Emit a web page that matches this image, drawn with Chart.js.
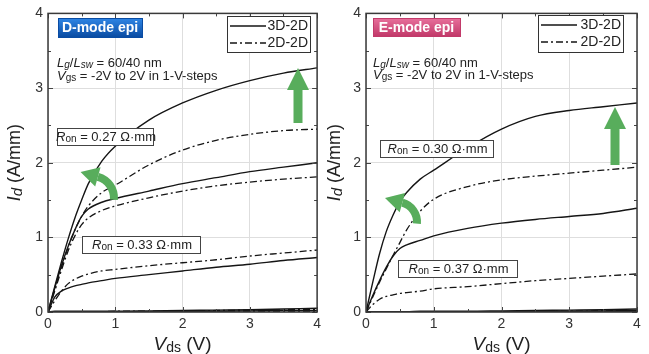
<!DOCTYPE html>
<html>
<head>
<meta charset="utf-8">
<script src="https://cdn.jsdelivr.net/npm/chart.js@4.4.1/dist/chart.umd.min.js"></script>
<style>
  body { margin: 0; background: #fff; }
  canvas { position: absolute; top: 0; }
</style>
</head>
<body>
<canvas id="dChart" width="325" height="354" style="left:0"></canvas>
<canvas id="eChart" width="324" height="354" style="left:325px"></canvas>
<script>
// drain voltage sweep (V)
const vds = [0, 0.1, 0.2, 0.3, 0.4, 0.5, 0.6, 0.8, 1, 1.5, 2, 2.5, 3, 3.5, 4];
const yTicks = [0, 1, 2, 3, 4];
const xTicks = [0, 1, 2, 3, 4];

// D-mode epi, Id (A/mm) for Vgs = 2, 1, 0, -1, -2
const d3dVgs2 = [0, 0.34, 0.67, 0.98, 1.26, 1.5, 1.72, 2.02, 2.22, 2.57, 2.8, 2.97, 3.1, 3.2, 3.27];
const d3dVgs1 = [0, 0.32, 0.62, 0.88, 1.1, 1.28, 1.38, 1.47, 1.52, 1.62, 1.72, 1.8, 1.88, 1.94, 2.0];
const d3dVgs0 = [0, 0.2, 0.28, 0.32, 0.35, 0.37, 0.39, 0.42, 0.45, 0.5, 0.55, 0.6, 0.64, 0.69, 0.73];
const d3dVgsm1 = [0, 0.01, 0.01, 0.01, 0.01, 0.01, 0.01, 0.01, 0.01, 0.015, 0.02, 0.025, 0.03, 0.04, 0.05];
const d3dVgsm2 = [0, 0, 0, 0, 0, 0, 0, 0, 0, 0.005, 0.01, 0.01, 0.015, 0.02, 0.02];
const d2dVgs2 = [0, 0.3, 0.6, 0.87, 1.1, 1.28, 1.42, 1.6, 1.7, 1.97, 2.17, 2.3, 2.38, 2.43, 2.45];
const d2dVgs1 = [0, 0.28, 0.56, 0.82, 1.02, 1.17, 1.26, 1.36, 1.42, 1.53, 1.62, 1.69, 1.74, 1.78, 1.81];
const d2dVgs0 = [0, 0.15, 0.28, 0.38, 0.44, 0.48, 0.51, 0.55, 0.57, 0.62, 0.66, 0.7, 0.75, 0.79, 0.83];
const d2dVgsm1 = [0, 0.005, 0.005, 0.005, 0.005, 0.005, 0.005, 0.005, 0.01, 0.01, 0.015, 0.02, 0.025, 0.03, 0.035];
const d2dVgsm2 = [0, 0, 0, 0, 0, 0, 0, 0, 0, 0, 0.005, 0.005, 0.01, 0.01, 0.01];

// E-mode epi
const e3dVgs2 = [0, 0.4, 0.78, 1.08, 1.3, 1.48, 1.6, 1.78, 1.9, 2.2, 2.45, 2.62, 2.7, 2.75, 2.8];
const e3dVgs1 = [0, 0.22, 0.42, 0.6, 0.75, 0.85, 0.9, 0.96, 1.02, 1.12, 1.19, 1.24, 1.28, 1.32, 1.39];
const e3dVgs0 = [0, 0.005, 0.005, 0.005, 0.005, 0.005, 0.005, 0.01, 0.01, 0.01, 0.015, 0.02, 0.025, 0.03, 0.04];
const e3dVgsm1 = [0, 0, 0, 0, 0, 0, 0, 0, 0, 0.005, 0.005, 0.01, 0.01, 0.015, 0.02];
const e3dVgsm2 = [0, 0, 0, 0, 0, 0, 0, 0, 0, 0, 0, 0, 0.005, 0.005, 0.01];
const e2dVgs2 = [0, 0.2, 0.4, 0.58, 0.76, 0.93, 1.1, 1.35, 1.51, 1.68, 1.77, 1.82, 1.86, 1.9, 1.94];
const e2dVgs1 = [0, 0.1, 0.17, 0.21, 0.23, 0.25, 0.26, 0.28, 0.31, 0.34, 0.38, 0.42, 0.45, 0.48, 0.51];
const e2dVgs0 = [0, 0, 0, 0, 0, 0, 0, 0, 0, 0.005, 0.005, 0.01, 0.01, 0.015, 0.02];
const e2dVgsm1 = [0, 0, 0, 0, 0, 0, 0, 0, 0, 0, 0, 0, 0.005, 0.005, 0.01];
const e2dVgsm2 = [0, 0, 0, 0, 0, 0, 0, 0, 0, 0, 0, 0, 0, 0, 0.005];

const FONT = '"Liberation Sans", Arial, sans-serif';
const GREEN = "#58ad5c";
const DASHDOT = [7, 3, 2, 3];

function toPoints(arr) {
  return arr.map((v, i) => ({ x: vds[i], y: v }));
}

function makeSets(solids, dashes) {
  let sets = [];
  solids.forEach((s) => {
    sets.push({ data: toPoints(s), borderColor: "#151515", borderWidth: 1.4,
      pointRadius: 0, cubicInterpolationMode: "monotone", fill: false });
  });
  dashes.forEach((s) => {
    sets.push({ data: toPoints(s), borderColor: "#151515", borderWidth: 1.3, borderDash: DASHDOT,
      pointRadius: 0, cubicInterpolationMode: "monotone", fill: false });
  });
  return sets;
}

function fontOf(p) {
  return (p[2] ? "italic " : "") + p[1] + "px " + FONT;
}

// parts: [text, size, italic, subscript]
function drawRich(ctx, x, y, parts, align) {
  let w = 0;
  parts.forEach((p) => { ctx.font = fontOf(p); w += ctx.measureText(p[0]).width; });
  let cx = align === "center" ? x - w / 2 : x;
  ctx.textAlign = "left";
  ctx.textBaseline = "middle";
  parts.forEach((p) => {
    ctx.font = fontOf(p);
    ctx.fillText(p[0], cx, y + (p[3] ? p[1] * 0.2 : 0));
    cx += ctx.measureText(p[0]).width;
  });
}

function upArrow(ctx, x, tip, base) {
  ctx.fillStyle = GREEN;
  ctx.beginPath();
  ctx.moveTo(x, tip);
  ctx.lineTo(x + 11, tip + 22);
  ctx.lineTo(x + 4.5, tip + 22);
  ctx.lineTo(x + 4.5, base);
  ctx.lineTo(x - 4.5, base);
  ctx.lineTo(x - 4.5, tip + 22);
  ctx.lineTo(x - 11, tip + 22);
  ctx.closePath();
  ctx.fill();
}

function curlArrow(ctx, cx, cy, r) {
  let a = -1.3;
  ctx.strokeStyle = GREEN;
  ctx.lineWidth = 8;
  ctx.beginPath();
  ctx.arc(cx, cy, r, 0.08, a, true);
  ctx.stroke();
  let ex = cx + r * Math.cos(a), ey = cy + r * Math.sin(a);
  let dx = Math.sin(a), dy = -Math.cos(a);
  let px = -dy, py = dx;
  ctx.fillStyle = GREEN;
  ctx.beginPath();
  ctx.moveTo(ex + dx * 18, ey + dy * 18);
  ctx.lineTo(ex + px * 10, ey + py * 10);
  ctx.lineTo(ex - px * 10, ey - py * 10);
  ctx.closePath();
  ctx.fill();
}

function decoPlugin(panel) {
  return {
    id: "deco",
    afterDraw(chart) {
      const ctx = chart.ctx;
      const area = chart.chartArea;
      const xs = chart.scales.x, ys = chart.scales.y;
      ctx.save();

      // inner tick marks on all four sides
      ctx.strokeStyle = "#444";
      ctx.lineWidth = 1;
      for (let v = 0; v <= 4; v += 0.5) {
        let len = v % 1 === 0 ? 5 : 3;
        let px = Math.round(xs.getPixelForValue(v)) + 0.5;
        let py = Math.round(ys.getPixelForValue(v)) + 0.5;
        ctx.beginPath();
        ctx.moveTo(px, area.bottom); ctx.lineTo(px, area.bottom - len);
        ctx.moveTo(px, area.top); ctx.lineTo(px, area.top + len);
        ctx.moveTo(area.left, py); ctx.lineTo(area.left + len, py);
        ctx.moveTo(area.right, py); ctx.lineTo(area.right - len, py);
        ctx.stroke();
      }
      // frame
      ctx.lineWidth = 1.5;
      ctx.strokeStyle = "#3a3a3a";
      ctx.strokeRect(area.left, area.top, area.right - area.left, area.bottom - area.top);

      // axis titles
      ctx.fillStyle = "#222";
      drawRich(ctx, (area.left + area.right) / 2, 345,
        [["V", 19, true, false], ["ds", 14, false, true], [" (V)", 19, false, false]], "center");
      ctx.save();
      ctx.translate(panel.titleX, (area.top + area.bottom) / 2);
      ctx.rotate(-Math.PI / 2);
      drawRich(ctx, 0, 0, [["I", 18, true, false], ["d", 15, true, true], [" (A/mm)", 18, false, false]], "center");
      ctx.restore();

      // mode tag
      let t = panel.tag;
      let g = ctx.createLinearGradient(0, t.y, 0, t.y + t.h);
      g.addColorStop(0, t.c1);
      g.addColorStop(1, t.c2);
      ctx.fillStyle = g;
      ctx.fillRect(t.x, t.y, t.w, t.h);
      ctx.strokeStyle = t.c2;
      ctx.lineWidth = 1;
      ctx.strokeRect(t.x + 0.5, t.y + 0.5, t.w, t.h);
      ctx.fillStyle = "#fff";
      ctx.font = "bold 14px " + FONT;
      ctx.textAlign = "center";
      ctx.textBaseline = "middle";
      ctx.fillText(t.text, t.x + t.w / 2, t.y + t.h / 2 + 1);

      // legend box
      let L = panel.legend;
      ctx.fillStyle = "#fff";
      ctx.fillRect(L.x, L.y, L.w, L.h);
      ctx.strokeStyle = "#333";
      ctx.lineWidth = 1;
      ctx.strokeRect(L.x + 0.5, L.y + 0.5, L.w, L.h);
      ctx.strokeStyle = "#151515";
      ctx.lineWidth = 1.4;
      ctx.beginPath();
      ctx.moveTo(L.x + 3, L.y + 10); ctx.lineTo(L.x + 39, L.y + 10);
      ctx.stroke();
      ctx.setLineDash(DASHDOT);
      ctx.beginPath();
      ctx.moveTo(L.x + 3, L.y + 27); ctx.lineTo(L.x + 39, L.y + 27);
      ctx.stroke();
      ctx.setLineDash([]);
      ctx.fillStyle = "#222";
      ctx.font = "14px " + FONT;
      ctx.textAlign = "right";
      ctx.fillText("3D-2D", L.x + L.w - 2, L.y + 10);
      ctx.fillText("2D-2D", L.x + L.w - 2, L.y + 27);

      // condition text
      ctx.fillStyle = "#222";
      drawRich(ctx, panel.textX, panel.textY[0], [["L", 13, true, false], ["g", 10, true, true], ["/", 13, false, false],
        ["L", 13, true, false], ["sw", 10, true, true], [" = 60/40 nm", 13, false, false]], "left");
      drawRich(ctx, panel.textX, panel.textY[1], [["V", 13, true, false], ["gs", 10, false, true],
        [" = -2V to 2V in 1-V-steps", 13, false, false]], "left");

      // Ron boxes
      panel.ron.forEach((r) => {
        ctx.fillStyle = "#fff";
        ctx.fillRect(r.x, r.y, r.w, 17);
        ctx.strokeStyle = "#444";
        ctx.lineWidth = 1;
        ctx.strokeRect(r.x + 0.5, r.y + 0.5, r.w, 17);
        ctx.fillStyle = "#222";
        drawRich(ctx, r.x + r.w / 2 + 1, r.y + 9, [["R", 13, true, false], ["on", 10, false, true],
          [" = " + r.value + " \u03A9\u00B7mm", 13, false, false]], "center");
      });

      // green arrows
      upArrow(ctx, panel.up[0], panel.up[1], panel.up[2]);
      curlArrow(ctx, panel.curl[0], panel.curl[1], panel.curl[2]);
      ctx.restore();
    },
  };
}

function makeOptions(yWidth, padRight) {
  return {
    responsive: false,
    animation: false,
    layout: { padding: { top: 10, right: padRight, left: 0, bottom: 0 } },
    plugins: { legend: { display: false }, tooltip: { enabled: false } },
    scales: {
      x: {
        type: "linear", min: 0, max: 4,
        afterFit: (s) => { s.height = 42; },
        ticks: {
          stepSize: 0.5, padding: 4, color: "#333", font: { family: FONT, size: 14 },
          callback: (v) => (xTicks.includes(v) ? String(v) : ""),
        },
        grid: {
          drawTicks: false,
          color: (c) => (c.tick && c.tick.value % 1 === 0 ? "#dedede" : "rgba(0,0,0,0)"),
        },
        border: { display: false },
      },
      y: {
        type: "linear", min: 0, max: 4,
        afterFit: (s) => { s.width = yWidth; },
        ticks: {
          stepSize: 0.5, padding: 5, color: "#333", font: { family: FONT, size: 14 },
          callback: (v) => (yTicks.includes(v) ? String(v) : ""),
        },
        grid: {
          drawTicks: false,
          color: (c) => (c.tick && c.tick.value % 1 === 0 ? "#dedede" : "rgba(0,0,0,0)"),
        },
        border: { display: false },
      },
    },
  };
}

const dPanel = {
  tag: { text: "D-mode epi", x: 58, y: 18, w: 84, h: 19, c1: "#2f86e6", c2: "#0a4ca3" },
  legend: { x: 227, y: 16, w: 83, h: 36 },
  textX: 57, textY: [63, 76],
  ron: [{ value: "0.27", x: 57, y: 128, w: 96 }, { value: "0.33", x: 82, y: 236, w: 118 }],
  up: [298, 68, 123],
  curl: [92, 198, 22],
  titleX: 15,
};

const ePanel = {
  tag: { text: "E-mode epi", x: 48, y: 18, w: 87, h: 18, c1: "#e8709c", c2: "#c23a6a" },
  legend: { x: 213, y: 15, w: 85, h: 37 },
  textX: 48, textY: [63, 75],
  ron: [{ value: "0.30", x: 55, y: 140, w: 113 }, { value: "0.37", x: 73, y: 260, w: 119 }],
  up: [290, 107, 165],
  curl: [72, 222, 20],
  titleX: 10,
};

new Chart(document.getElementById("dChart"), {
  type: "line",
  data: {
    datasets: makeSets([d3dVgs2, d3dVgs1, d3dVgs0, d3dVgsm1, d3dVgsm2],
      [d2dVgs2, d2dVgs1, d2dVgs0, d2dVgsm1, d2dVgsm2]),
  },
  options: makeOptions(48, 5),
  plugins: [decoPlugin(dPanel)],
});

new Chart(document.getElementById("eChart"), {
  type: "line",
  data: {
    datasets: makeSets([e3dVgs2, e3dVgs1, e3dVgs0, e3dVgsm1, e3dVgsm2],
      [e2dVgs2, e2dVgs1, e2dVgs0, e2dVgsm1, e2dVgsm2]),
  },
  options: makeOptions(41, 12),
  plugins: [decoPlugin(ePanel)],
});
</script>
</body>
</html>
